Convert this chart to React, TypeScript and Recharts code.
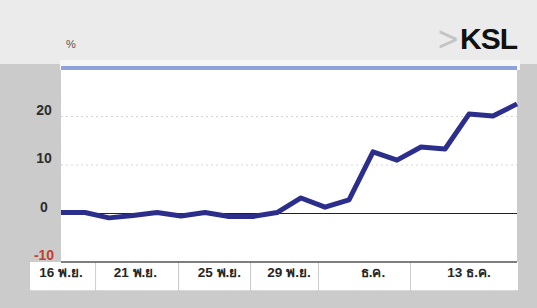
import { LineChart, Line, XAxis, YAxis, CartesianGrid, ReferenceLine, ReferenceArea } from "recharts"

// trading-day index and % change of KSL
const dayIndex = [0, 1, 2, 3, 4, 5, 6, 7, 8, 9, 10, 11, 12, 13, 14, 15, 16, 17, 18, 19]
const kslChange = [0.2, 0.2, -0.9, -0.4, 0.2, -0.5, 0.2, -0.6, -0.6, 0.2, 3.2, 1.3, 2.8, 12.7, 11.0, 13.7, 13.3, 20.5, 20.1, 22.6]

const tickPositions = [0, 3.1, 6.6, 9.5, 13, 17]
const tickLabels = ["16 พ.ย.", "21 พ.ย.", "25 พ.ย.", "29 พ.ย.", "ธ.ค.", "13 ธ.ค."]
// white label boxes under the axis, in day-index units
const labelCells = [
  [-1.29, 1.42],
  [1.46, 4.875],
  [4.92, 7.875],
  [7.92, 10.71],
  [10.75, 14.54],
  [14.58, 19.04],
]
const yTicks = [-10, 0, 10, 20]

const data = dayIndex.map((i, k) => ({ i, v: kslChange[k] }))

const font = '"Liberation Sans", Arial, sans-serif'

function YTick(props: any) {
  const { x, y, payload } = props
  return (
    <text
      x={x}
      y={y}
      dx={-9}
      dy={-2}
      textAnchor="middle"
      fontFamily={font}
      fontWeight="bold"
      fontSize={14}
      fill={payload.value < 0 ? "#c2402e" : "#2e2e2e"}
    >
      {payload.value}
    </text>
  )
}

function XTick(props: any) {
  const { x, y, payload } = props
  const idx = tickPositions.indexOf(payload.value)
  return (
    <text x={x} y={y} dy={7} textAnchor="middle" fontFamily={font} fontWeight="bold" fontSize={13.5} fill="#262626">
      {tickLabels[idx]}
    </text>
  )
}

export default function App() {
  return (
    <div style={{ position: "relative", width: 537, height: 308, background: "#cbcbcb", overflow: "hidden" }}>
      <style>{"body{margin:0}"}</style>
      <div style={{ position: "absolute", left: 0, top: 0, width: 537, height: 64, background: "#ebebeb" }} />
      <div style={{ position: "absolute", left: 60, top: 60, width: 460, height: 10, background: "#f6f6f6" }} />
      <div style={{ position: "absolute", left: 66, top: 38, fontFamily: font, fontSize: 11, color: "#555" }}>%</div>
      <div
        style={{
          position: "absolute",
          left: 434,
          top: 18,
          fontFamily: '"DejaVu Sans", sans-serif',
          fontSize: 34,
          color: "#c4c4c4",
          transform: "scaleX(0.8)",
        }}
      >
        &gt;
      </div>
      <div
        style={{
          position: "absolute",
          left: 460,
          top: 22,
          fontFamily: font,
          fontWeight: "bold",
          fontSize: 30,
          letterSpacing: -1,
          color: "#111",
        }}
      >
        KSL
      </div>
      <LineChart
        width={537}
        height={308}
        data={data}
        margin={{ top: 68, right: 20, bottom: 0, left: 0 }}
        style={{ position: "absolute", left: 0, top: 0 }}
      >
        <CartesianGrid fill="#ffffff" vertical={false} stroke="#d6d6d6" strokeDasharray="2 3" />
        {labelCells.map(([a, b], k) => (
          <ReferenceArea
            key={k}
            x1={a}
            x2={b}
            y1={-15.8}
            y2={-10}
            ifOverflow="visible"
            fill="#ffffff"
            fillOpacity={1}
            stroke="none"
          />
        ))}
        <XAxis
          dataKey="i"
          type="number"
          domain={[0, 19]}
          ticks={tickPositions}
          tick={<XTick />}
          tickLine={false}
          axisLine={false}
          height={46}
          interval={0}
        />
        <YAxis
          domain={[-10, 30]}
          ticks={yTicks}
          tick={<YTick />}
          tickLine={false}
          axisLine={false}
          width={61}
          allowDataOverflow
        />
        <ReferenceLine y={30} stroke="#8fa2dc" strokeWidth={4} />
        <ReferenceLine y={0} stroke="#222" strokeWidth={1.2} />
        <ReferenceLine y={-10} stroke="#555" strokeWidth={1.6} />
        <Line
          type="linear"
          dataKey="v"
          stroke="#2c2e8c"
          strokeWidth={5}
          strokeLinejoin="round"
          dot={false}
          isAnimationActive={false}
        />
      </LineChart>
    </div>
  )
}
